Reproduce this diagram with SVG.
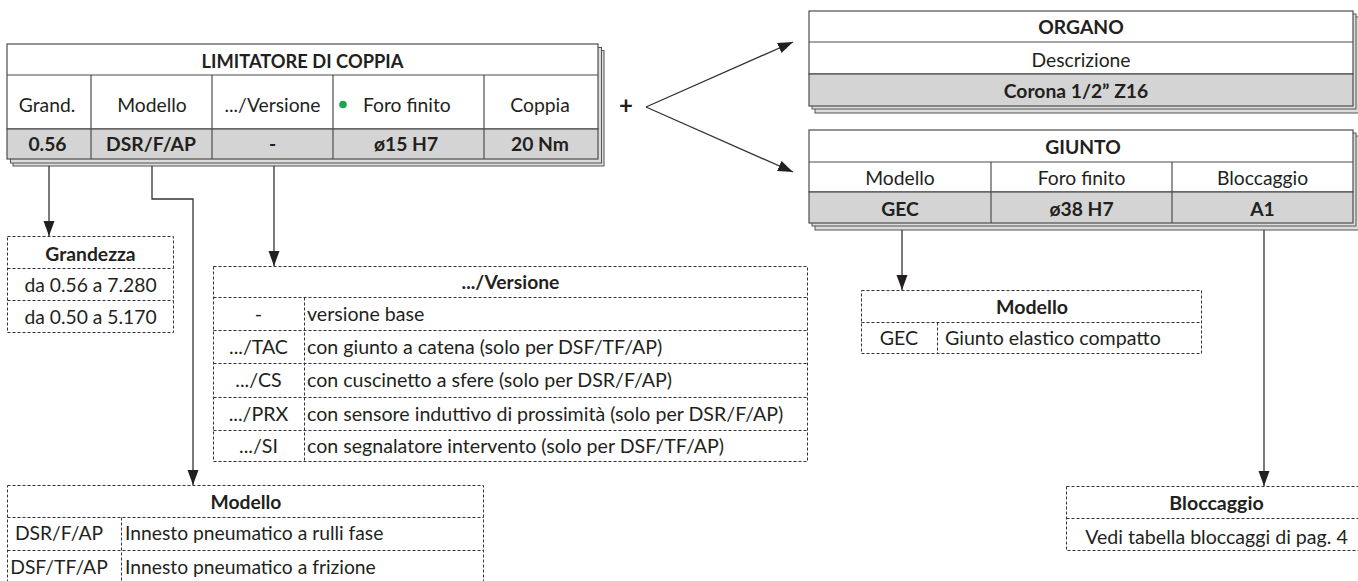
<svg xmlns="http://www.w3.org/2000/svg" width="1358" height="581" viewBox="0 0 1358 581">
<defs>
<style>
.t{font-family:Lato,"Open Sans","Liberation Sans",sans-serif;font-size:19.3px;fill:#231f20}
.b{font-weight:bold}
.m{text-anchor:middle}
.cell{fill:#fff;stroke:#4d4d4d;stroke-width:1.2}
.data{fill:#d4d4d4;stroke:#4d4d4d;stroke-width:1.2}
.sh{fill:#dcdcdc;stroke:#555;stroke-width:1}
.ln{stroke:#4d4d4d;stroke-width:1.2;fill:none}
.dash{fill:#fff;stroke:#333;stroke-width:1;stroke-dasharray:3 2}
.dl{stroke:#333;stroke-width:1;stroke-dasharray:3 2;fill:none}
.con{stroke:#333;stroke-width:1.3;fill:none}
</style>
<marker id="ah" markerUnits="userSpaceOnUse" markerWidth="16" markerHeight="12" refX="15" refY="5.5" orient="auto">
<path d="M0,0 L15,5.5 L0,11 z" fill="#231f20"/>
</marker>
</defs>

<g id="limitatore">
<rect class="sh" x="13" y="50.5" width="591" height="115.5"/>
<rect class="sh" x="10.5" y="47.5" width="591" height="115.5"/>
<rect class="cell" x="7" y="44" width="591" height="85"/>
<rect class="data" x="7" y="129" width="591" height="30"/>
<line class="ln" x1="7" y1="75" x2="598" y2="75"/>
<line class="ln" x1="91" y1="75" x2="91" y2="159"/>
<line class="ln" x1="212" y1="75" x2="212" y2="159"/>
<line class="ln" x1="333" y1="75" x2="333" y2="159"/>
<line class="ln" x1="484" y1="75" x2="484" y2="159"/>
<text class="t b m" x="302.5" y="68" style="font-size:18.3px">LIMITATORE DI COPPIA</text>
<text class="t m" x="47" y="112">Grand.</text>
<text class="t m" x="152" y="112">Modello</text>
<text class="t m" x="272.5" y="112">.../Versione</text>
<circle cx="343" cy="104.5" r="3.8" fill="#1aa64a"/>
<text class="t" x="363" y="112">Foro finito</text>
<text class="t m" x="540" y="112">Coppia</text>
<text class="t b m" x="47.5" y="151">0.56</text>
<text class="t b m" x="151" y="151">DSR/F/AP</text>
<text class="t b m" x="272.5" y="151">-</text>
<text class="t b m" x="406" y="151">ø15 H7</text>
<text class="t b m" x="540" y="151">20 Nm</text>
</g>

<g id="plus">
<text class="t b m" x="626" y="114" style="font-size:24px">+</text>
</g>

<g id="organo">
<rect class="sh" x="815" y="17" width="544" height="96"/>
<rect class="sh" x="812" y="14" width="544" height="95"/>
<rect class="cell" x="809" y="11" width="544" height="63"/>
<rect class="data" x="809" y="74" width="544" height="32"/>
<line class="ln" x1="809" y1="42" x2="1353" y2="42"/>
<text class="t b m" x="1081" y="34">ORGANO</text>
<text class="t m" x="1081" y="67">Descrizione</text>
<text class="t b m" x="1076" y="98">Corona 1/2” Z16</text>
</g>

<g id="giunto">
<rect class="sh" x="815" y="136" width="544" height="94"/>
<rect class="sh" x="812" y="133" width="544" height="93"/>
<rect class="cell" x="809" y="130" width="544" height="62"/>
<rect class="data" x="809" y="192" width="544" height="31"/>
<line class="ln" x1="809" y1="162" x2="1353" y2="162"/>
<line class="ln" x1="991" y1="162" x2="991" y2="223"/>
<line class="ln" x1="1172" y1="162" x2="1172" y2="223"/>
<text class="t b m" x="1083" y="154">GIUNTO</text>
<text class="t m" x="900" y="185">Modello</text>
<text class="t m" x="1081.5" y="185">Foro finito</text>
<text class="t m" x="1262.5" y="185">Bloccaggio</text>
<text class="t b m" x="900" y="216">GEC</text>
<text class="t b m" x="1081.5" y="216">ø38 H7</text>
<text class="t b m" x="1262.5" y="216">A1</text>
</g>

<g id="grandezza">
<rect class="dash" x="7.5" y="236.5" width="166" height="96"/>
<line class="dl" x1="7.5" y1="268.5" x2="173.5" y2="268.5"/>
<line class="dl" x1="7.5" y1="300.5" x2="173.5" y2="300.5"/>
<text class="t b m" x="90.5" y="261">Grandezza</text>
<text class="t m" x="90.5" y="292">da 0.56 a 7.280</text>
<text class="t m" x="90.5" y="324">da 0.50 a 5.170</text>
</g>

<g id="versione">
<rect class="dash" x="213.5" y="266.5" width="594" height="195"/>
<line class="dl" x1="213.5" y1="297.5" x2="807.5" y2="297.5"/>
<line class="dl" x1="213.5" y1="330.5" x2="807.5" y2="330.5"/>
<line class="dl" x1="213.5" y1="363.5" x2="807.5" y2="363.5"/>
<line class="dl" x1="213.5" y1="397.5" x2="807.5" y2="397.5"/>
<line class="dl" x1="213.5" y1="430.5" x2="807.5" y2="430.5"/>
<line class="dl" x1="304.5" y1="297.5" x2="304.5" y2="461.5"/>
<text class="t b m" x="510.5" y="289">.../Versione</text>
<g style="font-size:19.6px">
<text class="t m" x="258.5" y="320.5" style="font-size:19.6px">-</text>
<text class="t" x="307" y="320.5" style="font-size:19.6px">versione base</text>
<text class="t m" x="258.5" y="353.5" style="font-size:19.6px">.../TAC</text>
<text class="t" x="307" y="353.5" style="font-size:19.6px">con giunto a catena (solo per DSF/TF/AP)</text>
<text class="t m" x="258.5" y="387" style="font-size:19.6px">.../CS</text>
<text class="t" x="307" y="387" style="font-size:19.6px">con cuscinetto a sfere (solo per DSR/F/AP)</text>
<text class="t m" x="258.5" y="420.5" style="font-size:19.6px">.../PRX</text>
<text class="t" x="307" y="420.5" style="font-size:19.6px">con sensore induttivo di prossimità (solo per DSR/F/AP)</text>
<text class="t m" x="258.5" y="453" style="font-size:19.6px">.../SI</text>
<text class="t" x="307" y="453" style="font-size:19.6px">con segnalatore intervento (solo per DSF/TF/AP)</text>
</g>
</g>

<g id="modello-limitatore">
<rect class="dash" x="7.5" y="485.5" width="476" height="100"/>
<line class="dl" x1="7.5" y1="517.5" x2="483.5" y2="517.5"/>
<line class="dl" x1="7.5" y1="550.5" x2="483.5" y2="550.5"/>
<line class="dl" x1="121.5" y1="517.5" x2="121.5" y2="585"/>
<text class="t b m" x="246" y="509">Modello</text>
<text class="t m" x="59" y="540">DSR/F/AP</text>
<text class="t" x="125" y="540">Innesto pneumatico a rulli fase</text>
<text class="t m" x="59" y="574">DSF/TF/AP</text>
<text class="t" x="125" y="574">Innesto pneumatico a frizione</text>
</g>

<g id="modello-giunto">
<rect class="dash" x="861.5" y="290.5" width="340" height="63"/>
<line class="dl" x1="861.5" y1="322.5" x2="1201.5" y2="322.5"/>
<line class="dl" x1="937.5" y1="322.5" x2="937.5" y2="353.5"/>
<text class="t b m" x="1032" y="313.5" style="font-size:19.6px">Modello</text>
<text class="t m" x="899" y="345" style="font-size:19.6px">GEC</text>
<text class="t" x="945" y="345" style="font-size:19.6px">Giunto elastico compatto</text>
</g>

<g id="bloccaggio">
<rect class="dash" x="1066.5" y="486.5" width="300" height="64"/>
<line class="dl" x1="1066.5" y1="518.5" x2="1366.5" y2="518.5"/>
<text class="t b m" x="1216.5" y="510" style="font-size:19.6px">Bloccaggio</text>
<text class="t m" x="1216.5" y="543.5" style="font-size:19.6px">Vedi tabella bloccaggi di pag. 4</text>
</g>

<g id="connectors">
<line class="con" x1="646" y1="107" x2="793" y2="172" marker-end="url(#ah)"/>
<line class="con" x1="646" y1="107" x2="793" y2="42" marker-end="url(#ah)"/>
<line class="con" x1="49" y1="166" x2="49" y2="236" marker-end="url(#ah)"/>
<polyline class="con" points="152,166 152,199 193,199 193,485" marker-end="url(#ah)"/>
<line class="con" x1="274" y1="166" x2="274" y2="266" marker-end="url(#ah)"/>
<line class="con" x1="902" y1="230" x2="902" y2="290" marker-end="url(#ah)"/>
<line class="con" x1="1264" y1="230" x2="1264" y2="486" marker-end="url(#ah)"/>
</g>
</svg>
